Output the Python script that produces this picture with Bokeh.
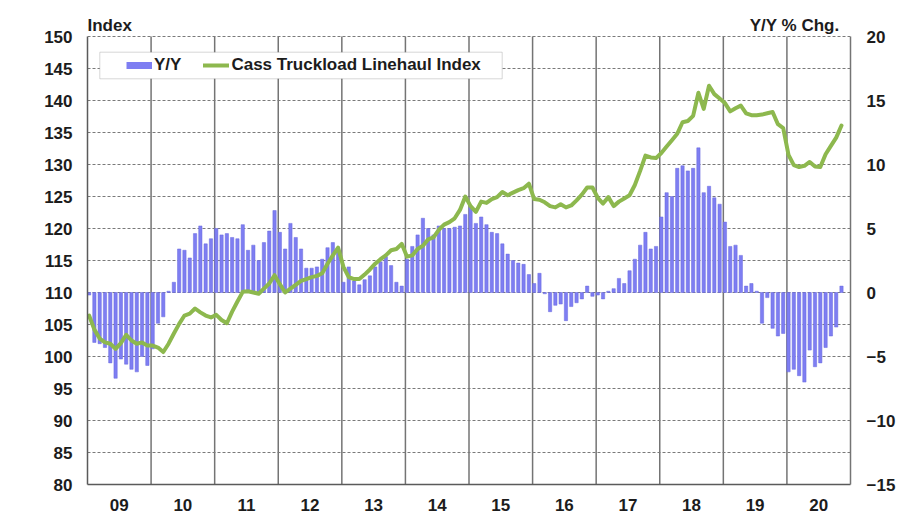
from bokeh.plotting import figure
from bokeh.models import (Range1d, LinearAxis, FixedTicker, Label, Legend, LegendItem,
                          BoxAnnotation, ColumnDataSource)
from bokeh.embed import file_html
from bokeh.resources import INLINE

# ---- data (monthly, Jan 2009 - Nov 2020) ----
index_2009 = [106.4, 104.2, 102.8, 102.2, 102.0, 101.2, 102.1, 103.4, 102.5, 102.0, 102.2, 101.7]
index_2010 = [101.7, 101.4, 100.7, 102.0, 103.6, 105.1, 106.4, 106.7, 107.5, 106.9, 106.4, 106.1]
index_2011 = [106.5, 105.7, 105.2, 107.0, 108.6, 110.1, 110.2, 110.0, 109.8, 110.6, 111.4, 112.7]
index_2012 = [111.3, 110.0, 110.6, 111.2, 111.8, 112.1, 112.4, 112.6, 113.0, 114.5, 115.8, 117.0]
index_2013 = [114.0, 112.4, 112.1, 112.1, 112.8, 113.6, 114.5, 115.2, 115.8, 116.6, 116.8, 117.6]
index_2014 = [115.6, 115.8, 116.8, 117.3, 118.3, 118.6, 119.8, 120.6, 121.0, 121.6, 122.9, 125.0]
index_2015 = [123.5, 122.6, 124.2, 124.0, 124.6, 124.9, 125.7, 125.2, 125.6, 126.0, 126.3, 127.0]
index_2016 = [124.6, 124.5, 124.1, 123.5, 123.3, 123.8, 123.3, 123.6, 124.4, 125.3, 126.4, 126.4]
index_2017 = [124.8, 123.9, 124.9, 123.5, 124.2, 124.7, 125.2, 126.8, 129.0, 131.4, 131.1, 131.0]
index_2018 = [131.8, 132.8, 133.8, 134.8, 136.6, 136.8, 137.6, 141.2, 138.7, 142.3, 141.0, 140.3]
index_2019 = [139.6, 138.3, 138.8, 139.2, 138.0, 137.7, 137.7, 137.8, 138.0, 138.2, 136.3, 135.7]
index_2020 = [131.5, 129.9, 129.6, 129.8, 130.4, 129.7, 129.6, 131.6, 132.9, 134.2, 136.1]

yoy_2009 = [-0.2, -3.9, -4.0, -4.3, -5.5, -6.7, -5.2, -5.6, -6.0, -6.2, -5.0, -5.7]
yoy_2010 = [-4.4, -2.4, -1.9, 0.1, 0.8, 3.4, 3.3, 2.7, 4.6, 5.2, 3.8, 4.2]
yoy_2011 = [5.0, 4.5, 4.6, 4.3, 4.2, 5.3, 3.3, 3.7, 2.5, 3.9, 4.8, 6.4]
yoy_2012 = [4.7, 3.4, 5.4, 4.3, 3.4, 1.9, 1.9, 2.0, 2.6, 3.5, 3.9, 3.4]
yoy_2013 = [0.8, 2.0, 0.9, 0.6, 1.0, 1.3, 2.0, 2.4, 2.8, 2.1, 0.8, 0.5]
yoy_2014 = [2.6, 3.6, 4.5, 5.8, 5.0, 4.5, 5.2, 5.0, 5.0, 5.1, 5.2, 6.1]
yoy_2015 = [6.7, 5.4, 5.9, 5.3, 4.7, 4.6, 3.8, 3.0, 2.5, 2.3, 2.2, 1.4]
yoy_2016 = [0.7, 1.5, -0.1, -1.5, -1.0, -0.9, -2.2, -1.1, -0.8, -0.5, 0.5, -0.3]
yoy_2017 = [-0.2, -0.5, 0.1, 0.3, 1.1, 0.7, 1.7, 2.6, 3.7, 4.7, 3.4, 3.6]
yoy_2018 = [5.9, 7.8, 7.5, 9.7, 9.9, 9.5, 9.7, 11.3, 7.8, 8.3, 7.4, 6.9]
yoy_2019 = [5.5, 3.6, 3.7, 2.9, 0.5, 0.7, 0.1, -2.4, -0.4, -2.8, -3.4, -3.2]
yoy_2020 = [-6.2, -6.0, -6.5, -7.0, -4.5, -5.8, -5.5, -4.3, -3.4, -2.7, 0.5]

years = [2009, 2010, 2011, 2012, 2013, 2014, 2015, 2016, 2017, 2018, 2019, 2020]
year_labels = ["09", "10", "11", "12", "13", "14", "15", "16", "17", "18", "19", "20"]
left_ticks = [80, 85, 90, 95, 100, 105, 110, 115, 120, 125, 130, 135, 140, 145, 150]
right_ticks = [-15, -10, -5, 0, 5, 10, 15, 20]

index_vals = (index_2009 + index_2010 + index_2011 + index_2012 + index_2013 + index_2014 +
              index_2015 + index_2016 + index_2017 + index_2018 + index_2019 + index_2020)
yoy_vals = (yoy_2009 + yoy_2010 + yoy_2011 + yoy_2012 + yoy_2013 + yoy_2014 +
            yoy_2015 + yoy_2016 + yoy_2017 + yoy_2018 + yoy_2019 + yoy_2020)

n = len(index_vals)
month_pos = [i + 0.3 for i in range(n)]  # months since Jan 2009
src = ColumnDataSource(dict(x=month_pos, idx=index_vals, yoy=yoy_vals))

FONT = "Liberation Sans"
TXT = "#1c1c1c"
GRID = "#747474"
FS = "17px"

# plot-area geometry: axes span 448 px; 28 px of headroom above for the titles
AXIS_PX = 448
HEAD_PX = 28
lo, hi = left_ticks[0], left_ticks[-1]
rlo, rhi = right_ticks[0], right_ticks[-1]
y_top = hi + HEAD_PX * (hi - lo) / AXIS_PX
r_top = rhi + HEAD_PX * (rhi - rlo) / AXIS_PX

p = figure(width=919, height=523, output_backend="svg", toolbar_location=None,
           x_range=Range1d(0, 12 * len(years)), y_range=Range1d(lo, y_top),
           min_border_left=87, min_border_right=69, min_border_top=8, min_border_bottom=39)
p.outline_line_color = None
p.background_fill_color = "white"
p.extra_y_ranges = {"pct": Range1d(rlo, r_top)}

bar_color = "#7E7EF2"
line_color = "#8DB84E"

# year boundary lines (vertical grid), limited to the axis span
bounds = [12 * k for k in range(1, len(years))]
p.segment(x0=bounds, y0=[lo] * len(bounds), x1=bounds, y1=[hi] * len(bounds),
          line_color=GRID, line_width=1.5, level="underlay")

bars = p.vbar(x="x", top="yoy", bottom=0, width=0.62, source=src, y_range_name="pct",
              fill_color=bar_color, line_color="#6868DE", line_width=0.5)
ln = p.line(x="x", y="idx", source=src, line_color=line_color, line_width=4,
            line_join="round", line_cap="round")

# axes
xa = p.xaxis[0]
xa.ticker = FixedTicker(ticks=[12 * k + 6 for k in range(len(years))])
xa.major_label_overrides = {12 * k + 6: lab for k, lab in enumerate(year_labels)}
xa.major_tick_line_color = None
xa.minor_tick_line_color = None
xa.axis_line_color = "#5a5a5a"
xa.axis_line_width = 1.5
xa.major_label_standoff = 8

ya = p.yaxis[0]
ya.ticker = FixedTicker(ticks=left_ticks)
ya.bounds = (lo, hi)
ya.major_tick_line_color = None
ya.minor_tick_line_color = None
ya.axis_line_color = "#5a5a5a"
ya.axis_line_width = 1.5
ya.major_label_standoff = 9

ra = LinearAxis(y_range_name="pct", ticker=FixedTicker(ticks=right_ticks))
ra.bounds = (rlo, rhi)
ra.major_tick_line_color = None
ra.minor_tick_line_color = None
ra.axis_line_color = GRID
ra.axis_line_width = 1.5
ra.major_label_standoff = 10
p.add_layout(ra, "right")

for ax in (xa, ya, ra):
    ax.major_label_text_font = FONT
    ax.major_label_text_font_style = "bold"
    ax.major_label_text_font_size = FS
    ax.major_label_text_color = TXT

# grids
p.xgrid.visible = False
p.ygrid.ticker = FixedTicker(ticks=left_ticks[1:])
p.ygrid.grid_line_color = "#7a7a7a"
p.ygrid.grid_line_dash = "3 2"
p.ygrid.grid_line_width = 1

# axis titles (screen px from the bottom-left of the plot area)
p.add_layout(Label(x=0, y=459, x_units="screen", y_units="screen", text="Index",
                   text_font=FONT, text_font_style="bold", text_font_size=FS,
                   text_color=TXT, text_align="left", text_baseline="alphabetic"))
p.add_layout(Label(x=752, y=459, x_units="screen", y_units="screen", text="Y/Y % Chg.",
                   text_font=FONT, text_font_style="bold", text_font_size=FS,
                   text_color=TXT, text_align="right", text_baseline="alphabetic"))

# legend box
p.add_layout(BoxAnnotation(left=12.3, right=414.7, top=432.3, bottom=405.7,
                           left_units="screen", right_units="screen",
                           top_units="screen", bottom_units="screen",
                           fill_color="white", fill_alpha=1.0,
                           line_color="#7a7a7a", line_width=1))

# legend swatch for the bars (a thick short stroke like the original key)
key_src = ColumnDataSource(dict(x=[float("nan")], y=[float("nan")]))
bar_key = p.line(x="x", y="y", source=key_src, line_color=bar_color, line_width=7,
                 line_cap="butt")

legend = Legend(items=[LegendItem(label="Y/Y", renderers=[bar_key]),
                       LegendItem(label="Cass Truckload Linehaul Index", renderers=[ln])],
                location=(39, 409), orientation="horizontal", padding=0, margin=0,
                spacing=22, label_standoff=2, glyph_width=26, glyph_height=20,
                label_height=20, border_line_color=None, background_fill_alpha=0,
                label_text_font=FONT, label_text_font_style="bold",
                label_text_font_size=FS, label_text_color=TXT)
p.add_layout(legend, "center")

open("out.html", "w").write(file_html(p, INLINE))
